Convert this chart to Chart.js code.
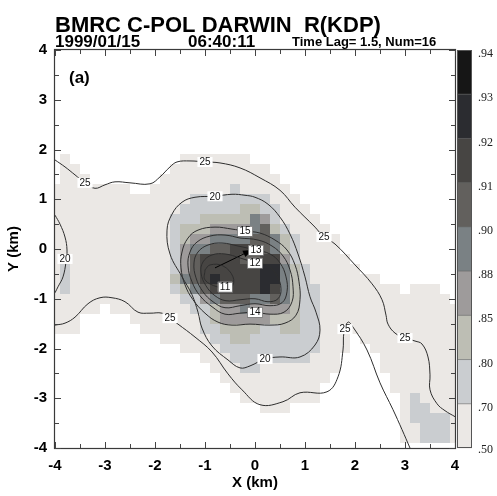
<!DOCTYPE html>
<html><head><meta charset="utf-8">
<script src="https://cdn.jsdelivr.net/npm/chart.js@4.4.1/dist/chart.umd.min.js"></script>
<style>html,body{margin:0;padding:0;background:#fff;}canvas{display:block;}</style>
</head><body>
<canvas id="c" width="497" height="496" style="width:497px;height:496px"></canvas>
<script>
// ---------- DATA ----------
const gridX = [-4.0,-3.8,-3.6,-3.4,-3.2,-3.0,-2.8,-2.6,-2.4,-2.2,-2.0,-1.8,-1.6,-1.4,-1.2,-1.0,-0.8,-0.6,-0.4,-0.2,0.0,0.2,0.4,0.6,0.8,1.0,1.2,1.4,1.6,1.8,2.0,2.2,2.4,2.6,2.8,3.0,3.2,3.4,3.6,3.8,4.0];
const gridY = [4.0,3.8,3.6,3.4,3.2,3.0,2.8,2.6,2.4,2.2,2.0,1.8,1.6,1.4,1.2,1.0,0.8,0.6,0.4,0.2,0.0,-0.2,-0.4,-0.6,-0.8,-1.0,-1.2,-1.4,-1.6,-1.8,-2.0,-2.2,-2.4,-2.6,-2.8,-3.0,-3.2,-3.4,-3.6,-3.8,-4.0];
// colour-band edges of R(KDP) correlation
const levelEdges = [0.50,0.70,0.80,0.85,0.88,0.90,0.91,0.92,0.93,0.94];
const levelColors = ['#ebe8e5','#cacdd0','#bdbeb4','#9e9b9b','#7a8184','#62605d','#474543','#2b2c30','#161616'];
// per grid row (y from 4 down to -4): runs of [band level (0 = no data), number of cells] along x from -4
const cellRuns = [
 [],[],[],[],[],[],[],[],[],[],[],
 [[0,1],[1,1],[0,11],[1,7]],
 [[0,1],[1,2],[0,9],[1,10]],
 [[0,1],[1,3],[0,7],[1,12]],
 [[1,8],[0,2],[1,8],[2,1],[1,5]],
 [[1,14],[2,8],[1,3]],
 [[1,13],[2,6],[3,2],[2,2],[1,3]],
 [[1,12],[2,3],[3,5],[5,1],[4,1],[2,1],[1,4]],
 [[1,12],[2,1],[3,3],[4,4],[5,1],[6,1],[3,1],[2,1],[1,4]],
 [[1,12],[2,1],[3,1],[4,2],[5,4],[6,2],[5,1],[3,1],[2,1],[1,4]],
 [[1,12],[2,1],[4,1],[5,2],[6,2],[7,2],[6,2],[5,1],[3,1],[2,1],[1,4]],
 [[1,12],[2,1],[4,1],[6,1],[7,4],[6,2],[7,2],[4,1],[2,1],[1,5]],
 [[1,1],[2,1],[1,10],[2,1],[4,1],[6,1],[7,6],[8,2],[5,1],[3,1],[2,1],[1,5]],
 [[1,1],[2,1],[1,10],[3,1],[5,1],[6,1],[7,1],[8,1],[7,4],[8,2],[5,1],[3,1],[2,1],[1,7]],
 [[1,1],[2,1],[1,10],[2,1],[3,1],[5,1],[6,1],[7,5],[8,1],[7,1],[5,1],[3,1],[2,2],[1,8],[0,1],[1,3]],
 [[1,13],[2,2],[4,1],[5,1],[6,3],[5,2],[6,1],[5,1],[3,1],[2,2],[1,13]],
 [[1,5],[0,1],[1,8],[2,2],[3,1],[4,2],[5,1],[4,4],[3,1],[2,2],[1,14]],
 [[1,3],[0,5],[1,7],[2,1],[3,1],[4,5],[3,3],[2,2],[1,14]],
 [[1,3],[0,6],[1,6],[2,2],[3,4],[2,2],[3,2],[2,2],[1,14]],
 [[0,11],[1,5],[2,2],[3,2],[2,7],[1,3],[0,1],[1,10]],
 [[0,13],[1,4],[2,10],[1,3],[0,2],[1,9]],
 [[0,15],[1,3],[2,8],[1,3],[0,4],[1,8]],
 [[0,16],[1,3],[2,2],[1,8],[0,4],[1,8]],
 [[0,17],[1,11],[0,6],[1,7]],
 [[0,18],[1,9],[0,7],[1,7]],
 [[0,19],[1,8],[0,8],[1,1],[2,1],[1,4]],
 [[0,21],[1,3],[0,11],[1,1],[2,2],[1,3]],
 [[0,35],[1,1],[2,4],[1,1]],
 [[0,35],[1,2],[2,3],[1,1]],
 [[0,35],[1,2],[2,3],[1,1]],
 []
];
// contour lines (km)
const contour25Upper = [[-4,1.79],[-3.8,1.65],[-3.6,1.49],[-3.4,1.33],[-3.2,1.22],[-3.0,1.29],[-2.8,1.35],[-2.5,1.33],[-2.1,1.31],[-1.9,1.45],[-1.7,1.65],[-1.56,1.75],[-1.3,1.77],[-1.0,1.75],[-0.7,1.73],[-0.3,1.63],[0.1,1.43],[0.5,1.18],[0.8,0.84],[1.2,0.44],[1.38,0.24],[1.6,0.10],[2.0,-0.32],[2.34,-0.70],[2.54,-1.02],[2.62,-1.33],[2.66,-1.51],[2.8,-1.69],[3.0,-1.79],[3.2,-1.85],[3.34,-1.91],[3.46,-2.17],[3.5,-2.53],[3.5,-2.83],[3.64,-3.11],[3.8,-3.25],[4.0,-3.37]];
const contour25Lower = [[-4,-1.53],[-3.8,-1.49],[-3.6,-1.37],[-3.34,-1.10],[-3.1,-0.98],[-2.86,-0.98],[-2.6,-1.06],[-2.34,-1.27],[-2.1,-1.29],[-1.86,-1.29],[-1.7,-1.39],[-1.54,-1.51],[-1.2,-1.77],[-0.86,-2.07],[-0.54,-2.51],[-0.26,-2.83],[0.1,-3.13],[0.56,-3.07],[0.9,-2.89],[1.44,-2.87],[1.66,-2.57],[1.76,-2.03],[1.78,-1.67],[1.86,-1.47],[1.96,-1.57],[2.24,-2.03],[2.5,-2.69],[2.76,-3.23],[2.94,-3.63],[3.1,-4.0]];
const contour20Left = [[-4,0.68],[-3.9,0.50],[-3.8,0.24],[-3.76,-0.02],[-3.78,-0.26],[-3.84,-0.56],[-3.94,-0.76],[-4,-0.88]];
const contour20Main = [[-1.46,-0.56],[-1.26,-0.92],[-1.14,-1.27],[-1.06,-1.59],[-0.86,-1.95],[-0.54,-2.23],[-0.3,-2.39],[-0.1,-2.35],[0.2,-2.21],[0.5,-2.17],[0.9,-2.17],[1.2,-1.93],[1.3,-1.63],[1.22,-1.27],[1.1,-0.96],[1.0,-0.56],[0.86,-0.10],[0.7,0.30],[0.5,0.64],[0.26,0.90],[0,1.04],[-0.2,1.08],[-0.46,1.10],[-0.8,1.06],[-1.2,1.04],[-1.46,0.94],[-1.66,0.70],[-1.76,0.38],[-1.7,-0.10],[-1.46,-0.56]];
const contour15 = [[-0.2,0.36],[0.1,0.32],[0.4,0.18],[0.64,-0.02],[0.8,-0.32],[0.88,-0.66],[0.9,-1.02],[0.82,-1.33],[0.6,-1.49],[0.3,-1.53],[-0.1,-1.51],[-0.46,-1.53],[-0.74,-1.47],[-1.0,-1.29],[-1.24,-1.02],[-1.4,-0.72],[-1.48,-0.38],[-1.46,-0.06],[-1.34,0.22],[-1.14,0.38],[-0.8,0.44],[-0.46,0.40],[-0.2,0.36]];
const contour14 = [[-0.3,0.22],[0.06,0.18],[0.34,0.06],[0.56,-0.14],[0.7,-0.42],[0.76,-0.76],[0.74,-1.06],[0.58,-1.27],[0.3,-1.31],[0,-1.27],[-0.3,-1.29],[-0.6,-1.31],[-0.86,-1.16],[-1.1,-0.94],[-1.26,-0.66],[-1.34,-0.34],[-1.3,-0.06],[-1.16,0.14],[-0.9,0.26],[-0.6,0.28],[-0.3,0.22]];
const contour13 = [[0.02,-0.02],[0.3,-0.10],[0.5,-0.28],[0.62,-0.56],[0.64,-0.86],[0.54,-1.08],[0.3,-1.14],[0,-1.10],[-0.3,-1.14],[-0.6,-1.18],[-0.84,-1.06],[-1.04,-0.86],[-1.18,-0.58],[-1.22,-0.28],[-1.14,-0.06],[-0.94,0.08],[-0.66,0.12],[-0.34,0.06],[0.02,-0.02]];
const contour12 = [[0,-0.28],[0.26,-0.34],[0.44,-0.54],[0.52,-0.80],[0.46,-1.00],[0.26,-1.06],[0,-1.00],[-0.3,-1.02],[-0.58,-1.04],[-0.8,-0.94],[-0.98,-0.74],[-1.08,-0.48],[-1.04,-0.26],[-0.86,-0.12],[-0.6,-0.10],[-0.3,-0.18],[0,-0.28]];
const contour11 = [[-1.0,-0.42],[-0.9,-0.32],[-0.64,-0.34],[-0.44,-0.56],[-0.46,-0.76],[-0.6,-0.76],[-0.76,-0.76],[-1.0,-0.62],[-1.0,-0.42]];
const contourLabels = [['25',-3.4,1.33],['25',-1.0,1.75],['25',1.38,0.24],['25',3.0,-1.79],['25',-1.7,-1.39],['25',1.8,-1.61],['20',-3.8,-0.2],['20',-0.8,1.06],['20',0.2,-2.21],['15',-0.2,0.36],['14',0.0,-1.27],['13',0.02,-0.02],['12',0.0,-0.28],['11',-0.6,-0.76]];
const boxedLabels = ['15','14','13','12','11'];
const motionArrow = [[-0.8,-0.38],[-0.06,-0.02]];
const majorTicks = [-4,-3,-2,-1,0,1,2,3,4];
const minorTicks = [-3.5,-2.5,-1.5,-0.5,0.5,1.5,2.5,3.5];

// ---------- PLUGINS ----------
const cellStep = gridX[1] - gridX[0];
const cellsPlugin = {
  id: 'cells',
  beforeDatasetsDraw(chart) {
    const {ctx, chartArea: a, scales: {x, y}} = chart;
    ctx.save();
    ctx.beginPath(); ctx.rect(a.left, a.top, a.right - a.left, a.bottom - a.top); ctx.clip();
    cellRuns.forEach((runs, r) => {
      let c = 0;
      runs.forEach(([lv, n]) => {
        for (let k = 0; k < n; k++, c++) {
          if (!lv) continue;
          const x0 = Math.round(x.getPixelForValue(gridX[c] - cellStep / 2));
          const x1 = Math.round(x.getPixelForValue(gridX[c] + cellStep / 2));
          const y0 = Math.round(y.getPixelForValue(gridY[r] + cellStep / 2));
          const y1 = Math.round(y.getPixelForValue(gridY[r] - cellStep / 2));
          ctx.fillStyle = levelColors[lv - 1];
          ctx.fillRect(x0, y0, x1 - x0, y1 - y0);
        }
      });
    });
    ctx.restore();
  }
};

const labelsPlugin = {
  id: 'clabels',
  afterDatasetsDraw(chart) {
    const {ctx, scales: {x, y}} = chart;
    ctx.save();
    // arrow head
    const p0 = motionArrow[0], p1 = motionArrow[1];
    const ax0 = x.getPixelForValue(p0[0]), ay0 = y.getPixelForValue(p0[1]);
    const ax1 = x.getPixelForValue(p1[0]), ay1 = y.getPixelForValue(p1[1]);
    const ang = Math.atan2(ay1 - ay0, ax1 - ax0);
    ctx.fillStyle = '#000';
    ctx.beginPath();
    ctx.moveTo(ax1, ay1);
    ctx.lineTo(ax1 - 9 * Math.cos(ang) + 3.5 * Math.sin(ang), ay1 - 9 * Math.sin(ang) - 3.5 * Math.cos(ang));
    ctx.lineTo(ax1 - 9 * Math.cos(ang) - 3.5 * Math.sin(ang), ay1 - 9 * Math.sin(ang) + 3.5 * Math.cos(ang));
    ctx.closePath(); ctx.fill();
    ctx.font = '10px "Liberation Sans", Arial, sans-serif';
    ctx.textAlign = 'center'; ctx.textBaseline = 'middle';
    contourLabels.forEach(([t, vx, vy]) => {
      const px = x.getPixelForValue(vx), py = y.getPixelForValue(vy);
      const w = ctx.measureText(t).width + 4, h = 10;
      ctx.fillStyle = '#fff';
      ctx.fillRect(px - w / 2, py - h / 2, w, h);
      if (boxedLabels.includes(t)) {
        ctx.strokeStyle = '#777'; ctx.lineWidth = 0.8;
        ctx.strokeRect(Math.round(px - w / 2) + 0.5, Math.round(py - h / 2) + 0.5, Math.round(w), h);
      }
      ctx.fillStyle = '#111';
      ctx.fillText(t, px, py + 0.5);
    });
    ctx.restore();
  }
};

const framePlugin = {
  id: 'frame',
  afterDraw(chart) {
    const {ctx, chartArea: a, scales: {x, y}} = chart;
    ctx.save();
    ctx.strokeStyle = '#3a3a3a'; ctx.lineWidth = 1.2;
    ctx.strokeRect(a.left - 0.5, a.top - 0.5, a.right - a.left + 1, a.bottom - a.top + 1);
    ctx.lineWidth = 1; ctx.strokeStyle = '#444';
    const tick = (vals, len) => {
      vals.forEach(v => {
        const px = Math.round(x.getPixelForValue(v)) + 0.5;
        const py = Math.round(y.getPixelForValue(v)) + 0.5;
        ctx.beginPath();
        ctx.moveTo(px, a.bottom); ctx.lineTo(px, a.bottom - len);
        ctx.moveTo(px, a.top); ctx.lineTo(px, a.top + len);
        ctx.moveTo(a.left, py); ctx.lineTo(a.left + len, py);
        ctx.moveTo(a.right, py); ctx.lineTo(a.right - len, py);
        ctx.stroke();
      });
    };
    tick(majorTicks, 6); tick(minorTicks, 4);

    // colour bar
    const bx = a.right + 2, bw = 15, n = levelColors.length;
    const h = (a.bottom - a.top) / n;
    for (let k = 0; k < n; k++) {
      ctx.fillStyle = levelColors[n - 1 - k];
      ctx.fillRect(bx, a.top + k * h, bw, h + 0.5);
    }
    ctx.strokeStyle = '#666'; ctx.lineWidth = 0.6;
    for (let k = 1; k < n; k++) {
      ctx.beginPath(); ctx.moveTo(bx, a.top + k * h); ctx.lineTo(bx + bw, a.top + k * h); ctx.stroke();
    }
    ctx.lineWidth = 1; ctx.strokeStyle = '#555';
    ctx.strokeRect(bx + 0.5, a.top + 0.5, bw - 1, a.bottom - a.top - 1);
    ctx.fillStyle = '#222';
    ctx.font = '12px "Liberation Serif", "Times New Roman", serif';
    ctx.textAlign = 'left'; ctx.textBaseline = 'middle';
    const edges = levelEdges.slice().reverse();
    edges.forEach((v, k) => {
      const t = v.toFixed(2).replace(/^0/, '');
      const ty = k === edges.length - 1 ? a.bottom + 2 : a.top + k * h + 4;
      ctx.fillText(t, bx + bw + 6, ty);
    });

    // header texts
    ctx.fillStyle = '#000'; ctx.textBaseline = 'alphabetic';
    ctx.font = 'bold 22px "Liberation Sans", Arial, sans-serif';
    ctx.fillText('BMRC C-POL DARWIN  R(KDP)', 55, 32);
    ctx.font = 'bold 17px "Liberation Sans", Arial, sans-serif';
    ctx.fillText('1999/01/15', 55, 47);
    ctx.fillText('06:40:11', 188, 47);
    ctx.font = 'bold 13px "Liberation Sans", Arial, sans-serif';
    ctx.fillText('Time Lag= 1.5, Num=16', 292, 45.5);
    ctx.font = 'bold 17px "Liberation Sans", Arial, sans-serif';
    ctx.fillText('(a)', 69, 83);
    ctx.restore();
  }
};

// ---------- CHART ----------
const lineSet = (pts, color, tension) => ({
  data: pts.map(p => ({x: p[0], y: p[1]})),
  showLine: true, pointRadius: 0, borderColor: color, borderWidth: 1, tension: tension, fill: false
});
const contourSets = [contour25Upper, contour25Lower, contour20Left, contour20Main, contour15, contour14, contour13, contour12, contour11];
const datasets = contourSets.map(c => lineSet(c, '#2e2e2e', 0.4));
datasets.push(lineSet(motionArrow, '#000', 0));

const axisFont = {family: '"Liberation Sans", Arial, sans-serif', size: 15, weight: 'bold'};
new Chart(document.getElementById('c'), {
  type: 'scatter',
  data: {datasets},
  options: {
    responsive: false, animation: false, devicePixelRatio: 1,
    layout: {padding: {top: 50, right: 42, left: 0, bottom: 0}},
    plugins: {legend: {display: false}, tooltip: {enabled: false}},
    scales: {
      x: {
        type: 'linear', position: 'bottom', min: -4, max: 4,
        ticks: {stepSize: 1, font: axisFont, color: '#000', padding: 9, maxRotation: 0, autoSkip: false},
        grid: {display: false, drawTicks: false}, border: {display: false},
        title: {display: true, text: 'X (km)', font: axisFont, color: '#000', padding: {top: 0, bottom: 4}},
        afterFit(s) { s.height = 48; }
      },
      y: {
        type: 'linear', position: 'left', min: -4, max: 4,
        ticks: {stepSize: 1, font: axisFont, color: '#000', padding: 8, autoSkip: false},
        grid: {display: false, drawTicks: false}, border: {display: false},
        title: {display: true, text: 'Y (km)', font: axisFont, color: '#000', padding: {top: 5, bottom: 0}},
        afterFit(s) { s.width = 55; }
      }
    }
  },
  plugins: [cellsPlugin, labelsPlugin, framePlugin]
});
</script>
</body></html>
